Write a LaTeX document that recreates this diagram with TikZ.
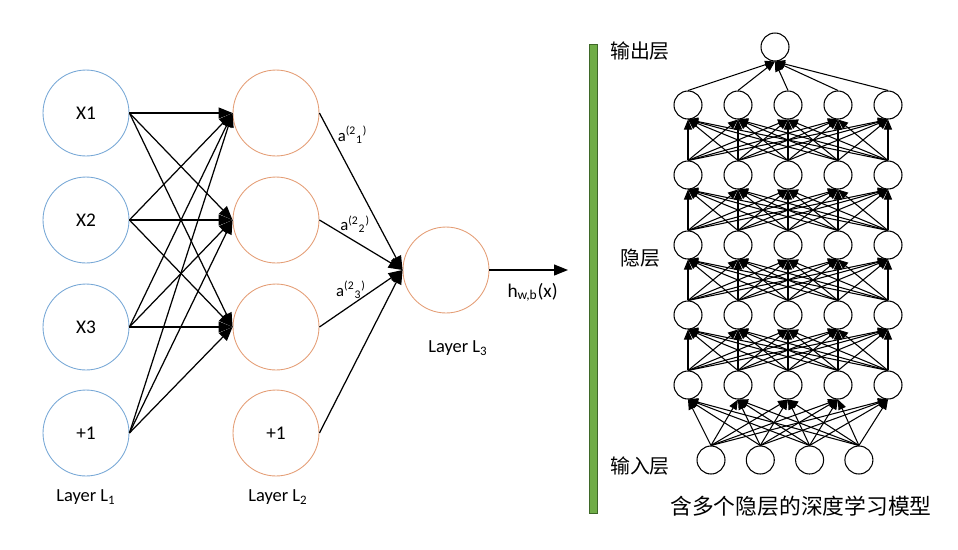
\documentclass[tikz,border=0pt]{standalone}
\usepackage{fontspec}
\setmainfont{Carlito}
\newfontfamily\cjk{Noto Sans CJK SC}
\usetikzlibrary{calc,arrows.meta,positioning}
\definecolor{layerblue}{RGB}{120,168,214}
\definecolor{layerorange}{RGB}{228,158,118}
\definecolor{barfill}{RGB}{112,173,71}
\definecolor{bardraw}{RGB}{62,104,40}

\begin{document}
\begin{tikzpicture} [x=0.02cm,y=-0.02cm,{inl/.style={circle,draw=layerblue,line width=0.5pt,minimum size=1.72cm,inner sep=0pt,font=\fontsize{11}{13}\selectfont}},{hidl/.style={circle,draw=layerorange,line width=0.5pt,minimum size=1.72cm,inner sep=0pt,font=\fontsize{11}{13}\selectfont}},{unit/.style={circle,draw=black,line width=0.6pt,minimum size=0.56cm,inner sep=0pt}},{netarr/.style={-{Triangle[length=2.8mm,width=2.2mm]},line width=0.7pt}},{deeparr/.style={-{Triangle[length=2mm,width=1.6mm]},line width=0.6pt}},{lbl/.style={font=\fontsize{10.5}{13}\selectfont,inner sep=0pt}},{alab/.style={font=\fontsize{9.5}{10}\selectfont,inner sep=1.5pt}},{cjklbl/.style={font=\cjk\fontsize{11.3}{13}\selectfont,inner sep=0pt}}]
	\useasboundingbox (0,0) rectangle (958,549);
	%%Layer L1
	\foreach \i/\y in {1/113,2/220,3/327}
		\node[inl] (x\i) at (86,\y) {X\i};
	\node[inl] (xb) at (86,433) {+1};
	\node[lbl] (l1) at (86,497) {Layer L\textsubscript{1}};
	%%Layer L2
	\foreach \i/\y in {1/113,2/220,3/327}
		\node[hidl] (a\i) at (276,\y) {};
	\node[hidl] (ab) at (276,433) {+1};
	\node[lbl] (l2) at (278,497) {Layer L\textsubscript{2}};
	%%Layer L3
	\node[hidl] (o) at (446,270) {};
	\node[lbl] (l3) at (458,348) {Layer L\textsubscript{3}};
	\coordinate (oend) at (568,270);
	%%weights L1 -> L2
	\foreach \s in {x1,x2,x3,xb}
		\foreach \t in {a1,a2,a3}
			\draw [netarr] (\s.east) -- (\t.west);
	%%L2 -> L3
	\draw [netarr] (a1.east) -- (o.west) node [alab,pos=0.14,anchor=west,xshift=2pt] {a\textsuperscript{(2}\textsubscript{1}\textsuperscript{)}};
	\draw [netarr] (a2.east) -- (o.west) node [alab,pos=0.43,anchor=south,yshift=3pt] {a\textsuperscript{(2}\textsubscript{2}\textsuperscript{)}};
	\draw [netarr] (a3.east) -- (o.west) node [alab,pos=0.38,anchor=south,yshift=2pt] {a\textsuperscript{(2}\textsubscript{3}\textsuperscript{)}};
	\draw [netarr] (ab.east) -- (o.west);
	\draw [netarr] (o.east) -- (oend) node [lbl,font=\fontsize{11}{13}\selectfont,pos=0.55,anchor=north,yshift=-7pt] {h\textsubscript{w,b}(x)};
	%%separator
	\draw [fill=barfill,draw=bardraw,line width=0.5pt] (589,44) rectangle (597,513);
	%%deep net
	\foreach \r in {1,...,5}
		\foreach \j in {1,...,5}
			\node[unit] (d\r\j) at ({688+50*(\j-1)},{385-70*(\r-1)}) {};
	\foreach \i in {1,...,4}
		\node[unit] (din\i) at ({711+49.3*(\i-1)},460) {};
	\node[unit] (dout) at (775,47) {};
	\foreach \i in {1,...,4}
		\foreach \j in {1,...,5}
			\draw [deeparr] (din\i.north) -- (d1\j.south);
	\foreach \r in {1,...,4}{
		\pgfmathtruncatemacro{\s}{\r+1}
		\foreach \i in {1,...,5}
			\foreach \j in {1,...,5}
				\draw [deeparr] (d\r\i.north) -- (d\s\j.south);
	}
	\foreach \j in {1,...,5}
		\draw [deeparr] (d5\j.north) -- (dout.south);
	%%labels
	\node[cjklbl] (outl) at (640,51) {输出层};
	\node[cjklbl] (hidlb) at (640,258) {隐层};
	\node[cjklbl] (inlb) at (640,466) {输入层};
	\node[cjklbl,font=\cjk\fontsize{12.4}{14}\selectfont] (cap) at (801,506) {含多个隐层的深度学习模型};
\end{tikzpicture}
\end{document}
